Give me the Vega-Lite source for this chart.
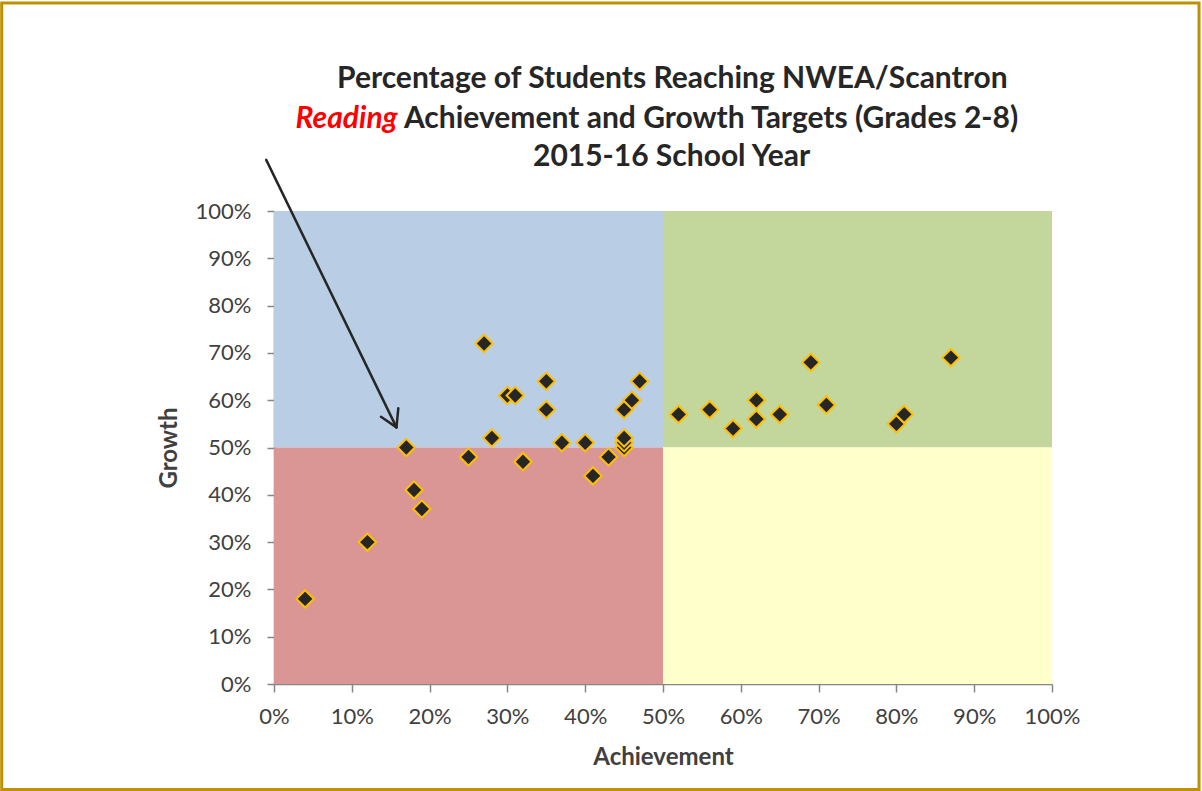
{
  "$schema": "https://vega.github.io/schema/vega-lite/v6.json",
  "width": 778,
  "height": 473,
  "autosize": {"type": "none"},
  "padding": {"left": 274, "top": 211, "right": 150, "bottom": 107},
  "background": "white",
  "config": {"view": {"stroke": null}, "font": "Lato"},
  "datasets": {
    "points": [
      {"x": 4, "y": 18}, {"x": 12, "y": 30}, {"x": 17, "y": 50}, {"x": 18, "y": 41},
      {"x": 19, "y": 37}, {"x": 25, "y": 48}, {"x": 27, "y": 72}, {"x": 28, "y": 52},
      {"x": 30, "y": 61}, {"x": 31, "y": 61}, {"x": 32, "y": 47}, {"x": 35, "y": 64},
      {"x": 35, "y": 58}, {"x": 37, "y": 51}, {"x": 40, "y": 51}, {"x": 41, "y": 44},
      {"x": 43, "y": 48}, {"x": 45, "y": 50}, {"x": 45, "y": 51}, {"x": 45, "y": 52},
      {"x": 45, "y": 58}, {"x": 46, "y": 60}, {"x": 47, "y": 64},
      {"x": 52, "y": 57}, {"x": 56, "y": 58}, {"x": 59, "y": 54}, {"x": 62, "y": 60},
      {"x": 62, "y": 56}, {"x": 65, "y": 57}, {"x": 69, "y": 68}, {"x": 71, "y": 59},
      {"x": 80, "y": 55}, {"x": 81, "y": 57}, {"x": 87, "y": 69}
    ],
    "quads": [
      {"x": 0, "x2": 50, "y": 50, "y2": 100, "zone": "Low achievement, high growth"},
      {"x": 50, "x2": 100, "y": 50, "y2": 100, "zone": "High achievement, high growth"},
      {"x": 0, "x2": 50, "y": 0, "y2": 50, "zone": "Low achievement, low growth"},
      {"x": 50, "x2": 100, "y": 0, "y2": 50, "zone": "High achievement, low growth"}
    ],
    "arrow": [
      {"x": -1.0, "y": 110.8, "x2": 15.74, "y2": 54.25},
      {"x": 13.75, "y": 56.5, "x2": 15.74, "y2": 54.25},
      {"x": 15.98, "y": 58.3, "x2": 15.74, "y2": 54.25}
    ],
    "frame": [{"x": -35.0, "x2": 118.9, "y": -22.3, "y2": 144.0}],
    "titleCenter": [
      {"x": 51.2, "y": 127.9, "text": "Percentage of Students Reaching NWEA/Scantron"},
      {"x": 51.1, "y": 111.4, "text": "2015-16 School Year"}
    ],
    "titleRest": [{"x": 16.7, "y": 119.5, "text": "Achievement and Growth Targets (Grades 2-8)"}],
    "titleRed": [{"x": 15.9, "y": 119.5, "text": "Reading"}]
  },
  "encoding": {
    "x": {
      "field": "x", "type": "quantitative",
      "scale": {"domain": [0, 100], "nice": false, "zero": false},
      "axis": {
        "title": "Achievement", "values": [0,10,20,30,40,50,60,70,80,90,100],
        "labelExpr": "datum.value + '%'", "grid": false, "labelFlush": false, "labelOverlap": false,
        "domainColor": "#868686", "domainWidth": 1.5, "tickColor": "#868686", "tickWidth": 1.5, "tickSize": 8,
        "labelFont": "Lato", "labelFontSize": 22, "labelColor": "#404040", "labelPadding": 14,
        "titleFont": "Lato", "titleFontSize": 24, "titleFontWeight": "bold", "titleColor": "#404040", "titlePadding": 18
      }
    },
    "y": {
      "field": "y", "type": "quantitative",
      "scale": {"domain": [0, 100], "nice": false, "zero": false},
      "axis": {
        "title": "Growth", "values": [0,10,20,30,40,50,60,70,80,90,100],
        "labelExpr": "datum.value + '%'", "grid": false, "labelFlush": false, "labelOverlap": false,
        "domainColor": "#868686", "domainWidth": 1.5, "tickColor": "#868686", "tickWidth": 1.5, "tickSize": 7,
        "labelFont": "Lato", "labelFontSize": 22, "labelColor": "#404040", "labelPadding": 16,
        "titleFont": "Lato", "titleFontSize": 24, "titleFontWeight": "bold", "titleColor": "#404040", "titlePadding": 14
      }
    }
  },
  "layer": [
    {
      "data": {"name": "frame"},
      "mark": {"type": "rect", "fill": "transparent", "stroke": "#BF9000", "strokeWidth": 3},
      "encoding": {"x2": {"field": "x2"}, "y2": {"field": "y2"}}
    },
    {
      "data": {"name": "quads"},
      "mark": {"type": "rect"},
      "encoding": {
        "x2": {"field": "x2"}, "y2": {"field": "y2"},
        "color": {
          "field": "zone", "type": "nominal", "legend": null,
          "scale": {
            "domain": ["Low achievement, high growth", "High achievement, high growth", "Low achievement, low growth", "High achievement, low growth"],
            "range": ["#B9CDE5", "#C3D69B", "#D99694", "#FFFFCC"]
          }
        }
      }
    },
    {
      "data": {"name": "points"},
      "mark": {"type": "point", "shape": "diamond", "filled": true, "size": 300, "fill": "#262626", "stroke": "#FFC000", "strokeWidth": 2, "opacity": 1}
    },
    {
      "data": {"name": "arrow"},
      "mark": {"type": "rule", "color": "#262626", "strokeWidth": 2.5, "strokeCap": "round"},
      "encoding": {"x2": {"field": "x2"}, "y2": {"field": "y2"}}
    },
    {
      "data": {"name": "titleCenter"},
      "mark": {"type": "text", "font": "Lato", "fontSize": 30, "fontWeight": "bold", "color": "#262626", "align": "center", "baseline": "middle"},
      "encoding": {"text": {"field": "text"}}
    },
    {
      "data": {"name": "titleRest"},
      "mark": {"type": "text", "font": "Lato", "fontSize": 30, "fontWeight": "bold", "color": "#262626", "align": "left", "baseline": "middle"},
      "encoding": {"text": {"field": "text"}}
    },
    {
      "data": {"name": "titleRed"},
      "mark": {"type": "text", "font": "Lato", "fontSize": 30, "fontWeight": "bold", "fontStyle": "italic", "color": "#FF0000", "align": "right", "baseline": "middle"},
      "encoding": {"text": {"field": "text"}}
    }
  ]
}
